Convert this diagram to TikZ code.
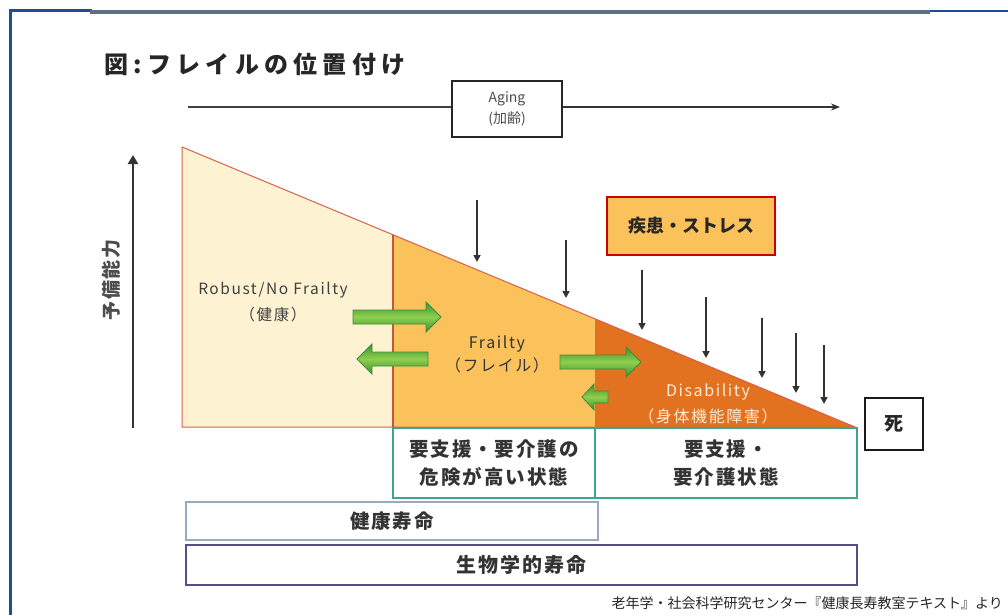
\documentclass[tikz,border=0pt]{standalone}
\usepackage{fontspec}
\setmainfont{Noto Sans CJK JP}
\newfontfamily\wideA{Noto Sans CJK JP}[LetterSpace=10]
\newfontfamily\wideB{Noto Sans CJK JP}[LetterSpace=22]
\usetikzlibrary{arrows.meta,calc}
\definecolor{frameblue}{HTML}{1F4E8C}
\definecolor{framegray}{HTML}{5F6F85}
\definecolor{robustfill}{HTML}{FDF3D2}
\definecolor{frailfill}{HTML}{FBC25C}
\definecolor{disfill}{HTML}{E2721F}
\definecolor{edgered}{HTML}{D9604A}
\definecolor{tealb}{HTML}{3FA58C}
\definecolor{kenkob}{HTML}{9AAAC4}
\definecolor{purpleb}{HTML}{5B4B8C}
\definecolor{gdark}{HTML}{3C8F34}
\definecolor{glight}{HTML}{8FCF4E}
\definecolor{txt}{HTML}{333333}
\tikzset{
  fs/.style={node font=\fontsize{#1pt}{\dimexpr #1pt*5/4\relax}\selectfont},
  downarr/.style={line width=1.6pt, draw=black!80, -{Triangle[length=7pt,width=7pt]}},
  garrow/.style={draw=gdark, line width=0.8pt, top color=gdark, bottom color=gdark, middle color=glight},
  careBox/.style={draw=tealb, line width=2pt, align=center, text=txt},
  region/.style={draw=edgered, line width=1pt},
}
\begin{document}
\begin{tikzpicture}[x=1pt,y=-1pt]
\useasboundingbox (0,0) rectangle (1008,615);
\fill[white] (0,0) rectangle (1008,615);
% frame
\draw[frameblue, line width=3pt] (10,615) -- (10,11) -- (92,11);
\draw[framegray, line width=4pt] (90,12) -- (930,12);
\draw[frameblue, line width=2.5pt] (930,11) -- (1008,11);
% title
\node[anchor=west, fs=24, font=\wideB\bfseries, text=black!85, inner sep=0pt] (title) at (104,64) {図:フレイルの位置付け};
% aging
\node[draw=black!85, line width=2pt, minimum width=110pt, minimum height=56pt, align=center, fs=14, text=black!70, inner sep=0pt] (aging) at (507,109) {Aging\\[3pt](加齢)};
\coordinate (agS) at (188,107);
\coordinate (agE) at (840,107);
\draw[line width=1.8pt, black!75] (agS) -- (agS -| aging.west);
\draw[line width=1.5pt, black!80, -{Stealth[length=9pt,width=7pt]}] (agE -| aging.east) -- (agE);
% vertical axis
\coordinate (vb) at (133,428);
\coordinate (vt) at (133,155);
\draw[line width=2.4pt, black!80, -{Triangle[length=9pt,width=10pt]}] (vb) -- (vt);
\node[rotate=90, fs=19, font=\wideA\bfseries, text=black!70] (yobi) at (111,280) {予備能力};
% regions
\coordinate (T) at (182,147);
\coordinate (E) at (855,427);
\coordinate (BL) at (182,427);
\coordinate (P1) at (393,234.8);
\coordinate (P2) at (595,318.8);
\coordinate (Q1) at (393,427);
\coordinate (Q2) at (595,427);
\fill[robustfill] (T) -- (P1) -- (Q1) -- (BL) -- cycle;
\fill[frailfill] (P1) -- (P2) -- (Q2) -- (Q1) -- cycle;
\fill[disfill] (P2) -- (E) -- (Q2) -- cycle;
\draw[region] (T) -- (E) -- (BL) -- cycle;
\draw[draw=edgered!90!black, line width=1.6pt] (P1) -- (Q1);
% region labels
\node[fs=15.5, font=\wideA, text=black!75, align=center] (robust) at (273,302) {Robust/No Frailty\\[6pt]（健康）};
\node[fs=16, font=\wideA, text=black!80, align=center] (frailty) at (497,354) {Frailty\\[3pt]（フレイル）};
\node[fs=16, font=\wideA, text=white!85!orange, align=center] (disab) at (708,404) {Disability\\[6pt]（身体機能障害）};
% green arrows
\path[garrow] (353,310) -- (426,310) -- (426,302) -- (441,317) -- (426,332) -- (426,324) -- (353,324) -- cycle;
\path[garrow] (428,352) -- (372,352) -- (372,344) -- (357,359) -- (372,374) -- (372,366) -- (428,366) -- cycle;
\path[garrow] (560,355) -- (626,355) -- (626,347) -- (641,362) -- (626,377) -- (626,369) -- (560,369) -- cycle;
\path[garrow] (608,391) -- (594,391) -- (594,384) -- (582,397) -- (594,410) -- (594,403) -- (608,403) -- cycle;
% stress
\node[draw=red!80!black, line width=2pt, fill=frailfill, minimum width=168pt, minimum height=58pt, fs=18, font=\bfseries, text=black!85] (stress) at (691,226) {疾患・ストレス};
\draw[downarr] (477,200) -- (477,262);
\draw[downarr] (566,240) -- (566,298);
\draw[downarr] (642,270) -- (642,330);
\draw[downarr] (706,297) -- (706,358);
\draw[downarr] (762,318) -- (762,378);
\draw[downarr] (796,333) -- (796,393);
\draw[downarr] (824,345) -- (824,404);
% death
\node[draw=black!90, line width=2.5pt, minimum width=58pt, minimum height=52pt, fs=19, font=\bfseries, text=black!85] (death) at (894,424) {死};
% care boxes
\node[careBox, minimum width=202pt, minimum height=70pt, fs=19.5, font=\wideA\bfseries, inner sep=0pt] (risk) at (494,463) {要支援・要介護の\\[4pt]危険が高い状態};
\node[careBox, minimum width=262pt, minimum height=70pt, fs=19.5, font=\wideA\bfseries, inner sep=0pt] (care) at (726,463) {要支援・\\[4pt]要介護状態};
\node[draw=kenkob, line width=1.3pt, minimum width=412pt, minimum height=38pt, fs=19.5, font=\wideA\bfseries, text=txt] (kenko) at (392,521) {健康寿命};
\node[draw=purpleb, line width=2.4pt, minimum width=671pt, minimum height=40pt, fs=20, font=\wideA\bfseries, text=txt] (bio) at (521.5,565) {生物学的寿命};
% attribution
\node[anchor=east, fs=14, text=black!85, inner sep=0pt] (src) at (1003,603) {老年学・社会科学研究センター『健康長寿教室テキスト』より};
\end{tikzpicture}
\end{document}
